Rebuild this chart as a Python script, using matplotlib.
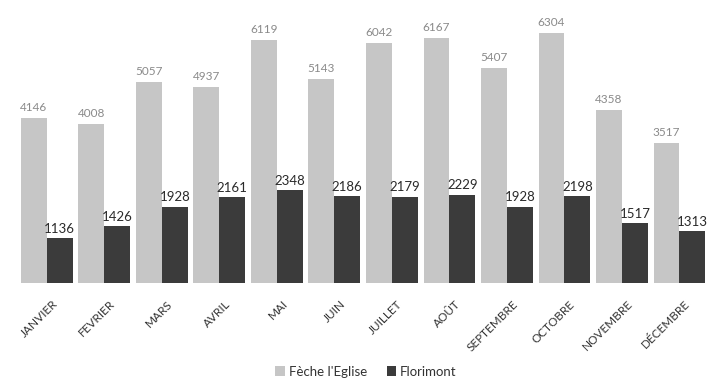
#!/usr/bin/env python3
"""monthly totals, Fêche l'Eglise vs Florimont, grouped bars"""
import matplotlib
matplotlib.use('Agg')
import matplotlib.pyplot as plt
import matplotlib.transforms as mtransforms
import numpy as np

months = ['JANVIER', 'FEVRIER', 'MARS', 'AVRIL', 'MAI', 'JUIN', 'JUILLET',
          'AOÛT', 'SEPTEMBRE', 'OCTOBRE', 'NOVEMBRE', 'DÉCEMBRE']
feche = [4146, 4008, 5057, 4937, 6119, 5143, 6042, 6167, 5407, 6304, 4358, 3517]
florimont = [1136, 1426, 1928, 2161, 2348, 2186, 2179, 2229, 1928, 2198, 1517, 1313]

plt.rcParams['font.family'] = ['Lato', 'DejaVu Sans']

fig = plt.figure(figsize=(7.09, 3.80), dpi=100)
ax = fig.add_axes([0.0, 0.255, 1.0, 0.745])

x = np.arange(len(months))
w = 0.45
light = '#c6c6c6'
dark = '#3b3b3b'

b1 = ax.bar(x - w / 2, feche, w, color=light, label="Fèche l'Eglise")
b2 = ax.bar(x + w / 2, florimont, w, color=dark, label='Florimont')

for rect, v in zip(b1, feche):
	ax.text(rect.get_x() + rect.get_width() / 2, v + 130, str(v),
	        ha='center', va='bottom', fontsize=8.5, color='#8a8a8a')
for rect, v in zip(b2, florimont):
	ax.text(rect.get_x() + rect.get_width() / 2, v + 80, str(v),
	        ha='center', va='bottom', fontsize=9.5, color='#2a2a2a')

ax.set_xlim(-0.815, 11.515)
ax.set_ylim(0, 7128)
ax.set_xticks(x)
ax.set_xticklabels(months, rotation=45, ha='right', rotation_mode='anchor',
                   fontsize=8.5, color='#333333')
ax.tick_params(axis='x', length=0, pad=11)
# nudge labels a little to the right of the group centre
shift = mtransforms.ScaledTranslation(5 / 100, 0, fig.dpi_scale_trans)
for lab in ax.get_xticklabels():
	lab.set_transform(lab.get_transform() + shift)
ax.set_yticks([])
for s in ax.spines.values():
	s.set_visible(False)

fig.legend(loc='center', bbox_to_anchor=(0.516, 0.022), ncol=2, frameon=False,
           fontsize=9.5, handlelength=0.7, handleheight=0.7,
           handletextpad=0.3, columnspacing=1.5, labelcolor='#333333')

fig.savefig('out.png', dpi=100)
